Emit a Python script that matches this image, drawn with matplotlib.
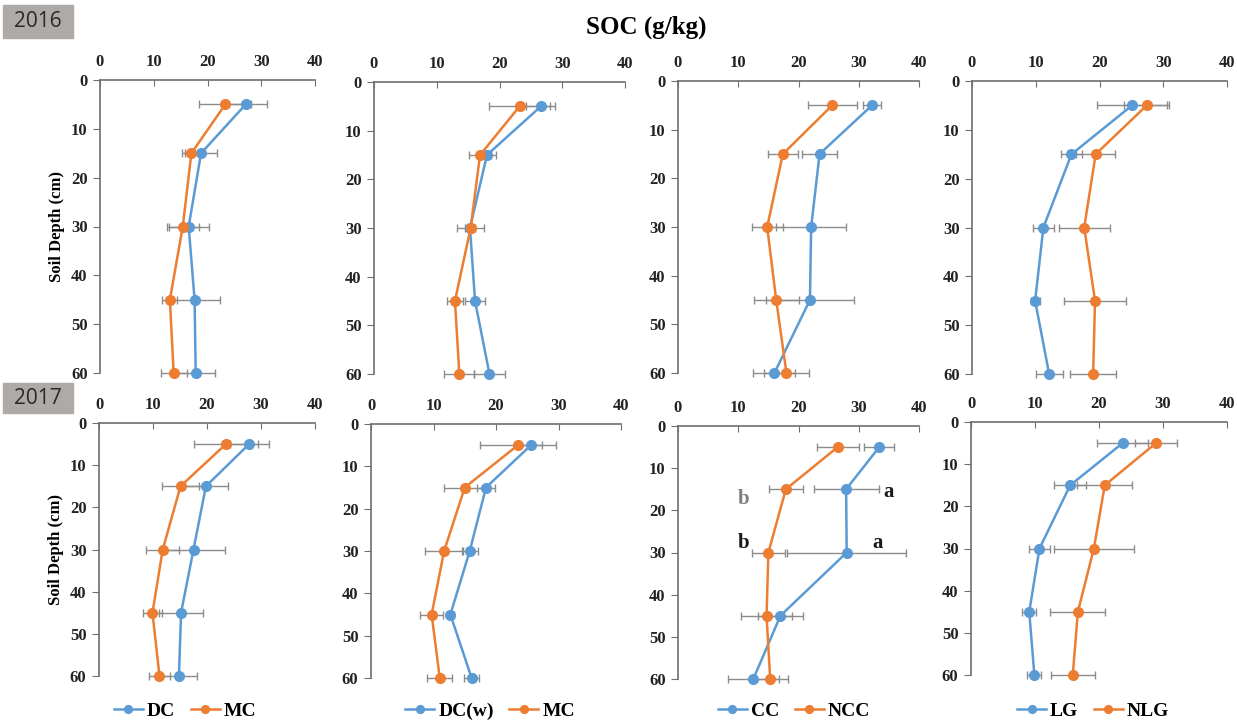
import numpy as np
import matplotlib.pyplot as plt

depth = [5, 15, 30, 45, 60]

# 2016
dc16 = [27.1, 18.8, 16.5, 17.6, 17.8]
dc16_err = [4.0, 3.0, 3.7, 4.8, 3.6]
mc16 = [23.3, 17.0, 15.4, 13.0, 13.7]
mc16_err = [4.8, 1.8, 3.0, 1.4, 2.4]

dcw16 = [26.6, 18.0, 15.3, 16.1, 18.4]
dcw16_err = [2.3, 1.4, 0.8, 1.6, 2.4]
mcw16 = [23.2, 16.9, 15.4, 12.9, 13.6]
mcw16_err = [4.9, 1.8, 2.2, 1.3, 2.4]

cc16 = [32.2, 23.5, 22.1, 21.9, 16.0]
cc16_err = [1.5, 2.9, 5.8, 7.3, 3.5]
ncc16 = [25.6, 17.4, 14.8, 16.3, 18.0]
ncc16_err = [4.1, 2.5, 2.6, 3.7, 3.7]

lg16 = [25.1, 15.6, 11.2, 9.9, 12.1]
lg16_err = [5.5, 1.6, 1.6, 0.7, 2.1]
nlg16 = [27.4, 19.4, 17.6, 19.3, 19.0]
nlg16_err = [3.5, 3.1, 4.0, 4.8, 3.6]

# 2017
dc17 = [27.8, 19.8, 17.5, 15.2, 14.8]
dc17_err = [3.6, 4.1, 5.9, 4.1, 3.3]
mc17 = [23.5, 15.1, 11.8, 9.9, 11.2]
mc17_err = [5.9, 3.4, 3.1, 1.8, 2.0]

dcw17 = [25.6, 18.4, 15.8, 12.7, 16.1]
dcw17_err = [1.8, 1.5, 1.3, 0.5, 1.2]
mcw17 = [23.5, 15.0, 11.7, 9.7, 11.0]
mcw17_err = [6.1, 3.3, 3.0, 1.8, 2.0]

cc17 = [33.4, 27.9, 28.0, 17.0, 12.5]
cc17_err = [2.5, 5.4, 9.9, 3.8, 4.2]
ncc17 = [26.5, 17.9, 15.0, 14.7, 15.3]
ncc17_err = [3.5, 2.8, 2.8, 4.3, 2.9]

lg17 = [23.7, 15.5, 10.7, 9.1, 9.9]
lg17_err = [4.0, 2.5, 1.6, 1.1, 1.1]
nlg17 = [28.9, 20.9, 19.2, 16.7, 15.9]
nlg17_err = [3.3, 4.3, 6.2, 4.3, 3.4]

labels = [('DC', 'MC'), ('DC(w)', 'MC'), ('CC', 'NCC'), ('LG', 'NLG')]

rows = [
    [(dc16, dc16_err, mc16, mc16_err), (dcw16, dcw16_err, mcw16, mcw16_err),
     (cc16, cc16_err, ncc16, ncc16_err), (lg16, lg16_err, nlg16, nlg16_err)],
    [(dc17, dc17_err, mc17, mc17_err), (dcw17, dcw17_err, mcw17, mcw17_err),
     (cc17, cc17_err, ncc17, ncc17_err), (lg17, lg17_err, nlg17, nlg17_err)],
]

BLUE = '#5B9BD5'
ORANGE = '#ED7D31'
SERIF = 'Liberation Serif'

W, H = 1237, 723
# axes boxes in pixels: x0, x40, ytop(0), ybottom(60)
boxes = [
    [(100, 315, 80, 373), (374, 625, 82, 374), (678, 919, 81, 373), (972, 1227, 81, 374)],
    [(99, 315, 423, 676), (371, 621, 424, 678), (678, 919, 426, 679), (971, 1227, 422, 675)],
]
leg_x = [185, 490, 794, 1093]

fig = plt.figure(figsize=(W / 100, H / 100), dpi=100)

for r in range(2):
    for c in range(4):
        x0, x1, y0, y1 = boxes[r][c]
        ax = fig.add_axes([x0 / W, 1 - y1 / H, (x1 - x0) / W, (y1 - y0) / H])
        a, ae, b, be = rows[r][c]
        for vals, err in [(a, ae), (b, be)]:
            eb = ax.errorbar(vals, depth, xerr=err, fmt='none', ecolor='#8c8c8c',
                             elinewidth=1, capsize=3, capthick=1, zorder=2)
            for art in eb.lines[1] + eb.lines[2]:
                art.set_clip_on(False)
        ax.plot(a, depth, '-o', color=BLUE, lw=1.8, ms=7, label=labels[c][0],
                zorder=3, clip_on=False)
        ax.plot(b, depth, '-o', color=ORANGE, lw=1.8, ms=7, label=labels[c][1],
                zorder=3, clip_on=False)
        ax.set_xlim(0, 40)
        ax.set_ylim(60, 0)
        ax.set_xticks([0, 10, 20, 30, 40])
        ax.set_yticks([0, 10, 20, 30, 40, 50, 60])
        ax.xaxis.tick_top()
        for s in ['right', 'bottom']:
            ax.spines[s].set_visible(False)
        for s in ['top', 'left']:
            ax.spines[s].set_color('#6e6e6e')
            ax.spines[s].set_linewidth(1.2)
        ax.tick_params(axis='x', direction='in', length=4, color='#6e6e6e', pad=7)
        ax.tick_params(axis='y', direction='out', length=5, color='#6e6e6e', pad=4)
        for t in ax.get_xticklabels() + ax.get_yticklabels():
            t.set_fontfamily(SERIF)
            t.set_fontweight('bold')
            t.set_fontsize(12)
            t.set_color('#222222')
        ax.set_facecolor('none')
        if c == 0:
            ax.set_ylabel('Soil Depth (cm)', fontfamily=SERIF, fontweight='bold',
                          fontsize=12, labelpad=4)
        if r == 1:
            cx = (leg_x[c] - x0) / (x1 - x0)
            cy = -(711 - y1) / (y1 - y0)
            ax.legend(loc='center', bbox_to_anchor=(cx, cy), ncol=2, frameon=False,
                      prop={'family': SERIF, 'weight': 'bold', 'size': 14},
                      handlelength=1.5, handletextpad=0.2, columnspacing=0.8,
                      markerscale=0.8)
        if r == 1 and c == 2:
            ax.text(10.8, 17.2, 'b', color='#7f7f7f', fontfamily=SERIF,
                    fontweight='bold', fontsize=15, ha='center', va='center')
            ax.text(35.0, 15.7, 'a', color='#1a1a1a', fontfamily=SERIF,
                    fontweight='bold', fontsize=15, ha='center', va='center')
            ax.text(10.8, 27.7, 'b', color='#1a1a1a', fontfamily=SERIF,
                    fontweight='bold', fontsize=15, ha='center', va='center')
            ax.text(33.2, 27.7, 'a', color='#1a1a1a', fontfamily=SERIF,
                    fontweight='bold', fontsize=15, ha='center', va='center')

fig.text(646 / W, 1 - 27 / H, 'SOC (g/kg)', fontfamily=SERIF, fontweight='bold',
         fontsize=18, ha='center', va='center')

for yr, (yt, yb) in zip(['2016', '2017'], [(5, 38), (383, 413)]):
    fig.patches.append(plt.Rectangle((3 / W, 1 - yb / H), 70 / W, (yb - yt) / H,
                                     transform=fig.transFigure, color='#aeaaa7',
                                     zorder=0))
    fig.text(38 / W, 1 - (yt + yb) / 2 / H, yr, fontfamily='Open Sans', fontsize=15,
             color='#2a2a2a', ha='center', va='center')

fig.savefig('out.png', dpi=100)
